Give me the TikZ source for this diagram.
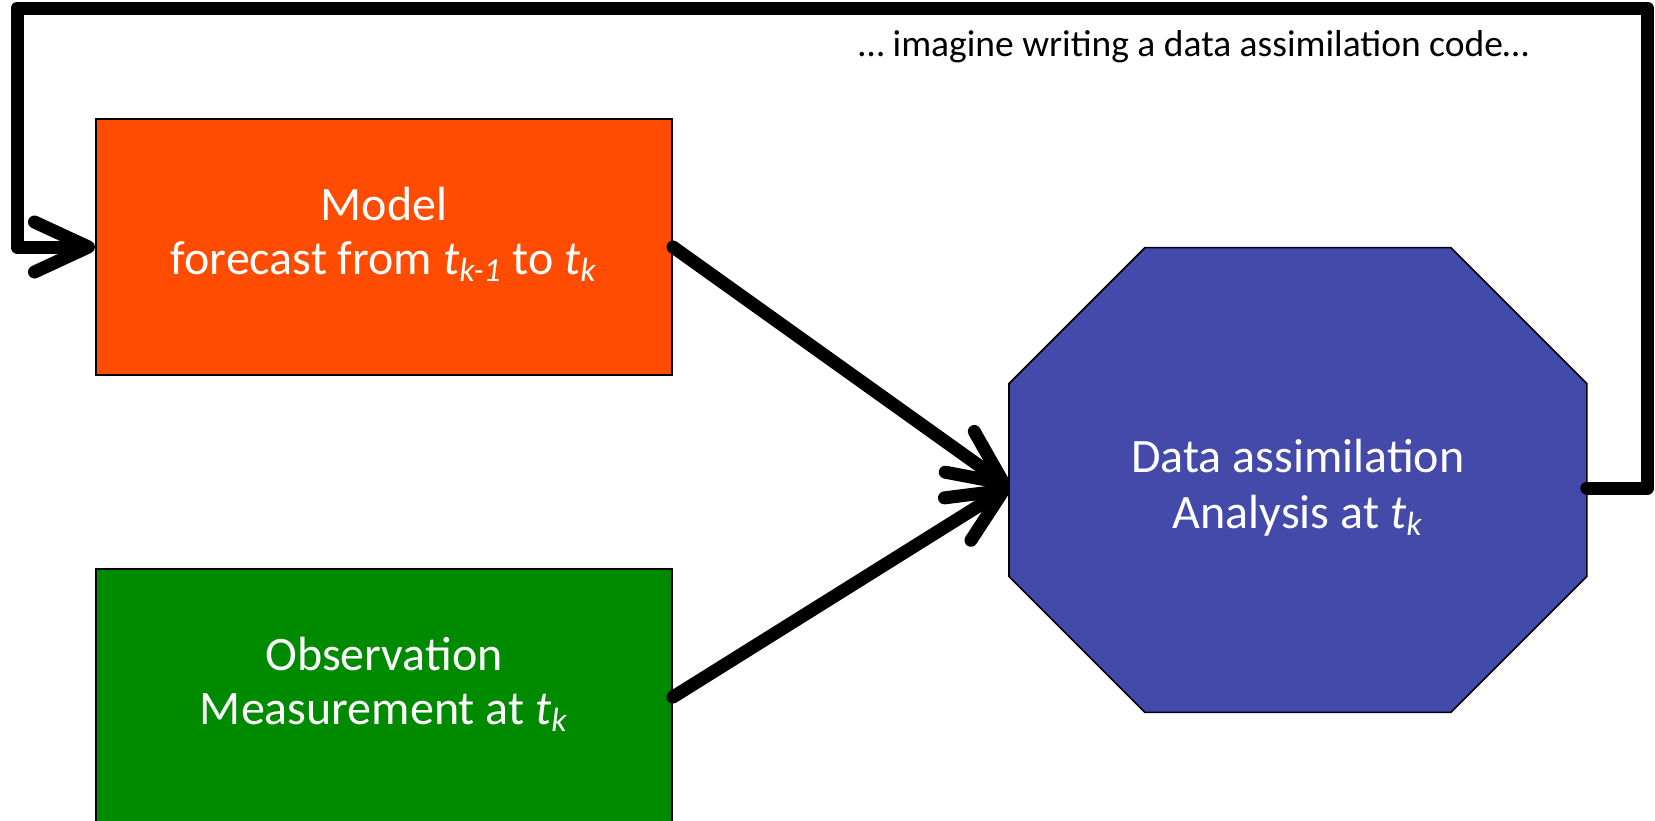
\documentclass[tikz,border=0pt]{standalone}
\usepackage{fontspec}
\setmainfont{Carlito}
\usetikzlibrary{positioning,backgrounds,arrows.meta}
\definecolor{modelorange}{RGB}{255,76,0}
\definecolor{obsgreen}{RGB}{0,138,0}
\definecolor{dablue}{RGB}{67,74,170}
\tikzset{
  box/.style   = {rectangle, minimum width=288pt, minimum height=128pt,
                  draw=black, line width=1pt, align=center, text=white,
                  font=\fontsize{24}{27}\selectfont},
  octa/.style  = {rectangle, minimum width=288.5pt, minimum height=232pt,
                  align=center, text=white, font=\fontsize{24}{28}\selectfont},
  octafill/.style = {draw=black, line width=0.8pt, fill=dablue},
  arrow/.style = {line width=6.5pt, line join=round, line cap=round,
                  -{Straight Barb[round,length=27pt,width=25pt]}}
}
\newcommand{\tsub}[1]{\textit{t}\textsubscript{\textit{#1}}}
% invisible struts to place the two lines inside the shapes
\newcommand{\uprule}[1]{\rule{0pt}{#1}}
\newcommand{\downrule}[1]{\rule[-#1]{0pt}{#1}}
\newcommand{\cut}{68pt}

\begin{document}
\begin{tikzpicture}
\useasboundingbox (0,0) rectangle (827.5pt,-410pt);

\node (model) [box, fill=modelorange] at (192pt,-123.5pt)
      {\uprule{20pt}Model\\forecast from \tsub{k-1} to \tsub{k}\downrule{20pt}};
\node (obs)   [box, fill=obsgreen, below=96pt of model]
      {\uprule{20pt}Observation\\Measurement at \tsub{k}\downrule{20pt}};
\node (da)    [octa, right=168pt of model.east, yshift=-116.5pt]
      {\uprule{30pt}Data assimilation\\Analysis at \tsub{k}\downrule{10pt}};
\node (note)  [anchor=base east, font=\fontsize{18.75}{22}\selectfont]
      at (768pt,-28pt) {… imagine writing a data assimilation code…};

% octagon behind the analysis text
\begin{scope}[on background layer]
  \path[octafill] ([xshift=\cut]da.north west) -- ([xshift=-\cut]da.north east)
    -- ([yshift=-\cut]da.north east) -- ([yshift=\cut]da.south east)
    -- ([xshift=-\cut]da.south east) -- ([xshift=\cut]da.south west)
    -- ([yshift=\cut]da.south west) -- ([yshift=-\cut]da.north west) -- cycle;
\end{scope}

\coordinate (daIn)   at ([yshift=-3.5pt]da.west);
\coordinate (daOut)  at ([yshift=-4pt]da.east);
\coordinate (loopNE) at (823.75pt,-4pt);
\coordinate (loopNW) at (8.5pt,-4pt);

\draw[arrow] (model.east) -- (daIn);
\draw[arrow] (obs.east) -- (daIn);
\draw[arrow] (daOut) -| (loopNE) -- (loopNW) |- (model.west);

\end{tikzpicture}
\end{document}
